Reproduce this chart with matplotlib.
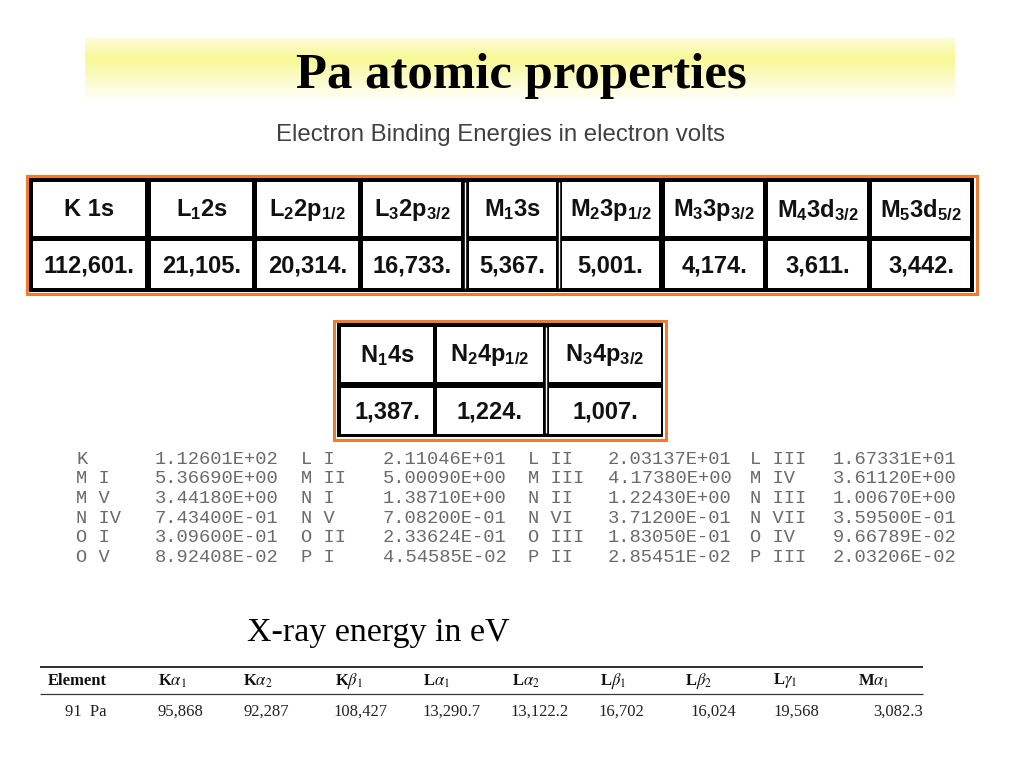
import numpy as np
import matplotlib
matplotlib.use("Agg")
import matplotlib.pyplot as plt
from matplotlib.patches import Rectangle

plt.rcParams['mathtext.fontset'] = 'custom'
plt.rcParams['mathtext.rm'] = 'Liberation Sans:bold'
plt.rcParams['mathtext.it'] = 'Liberation Sans:bold'
plt.rcParams['mathtext.bf'] = 'Liberation Sans:bold'
plt.rcParams['mathtext.sf'] = 'Liberation Sans:bold'

# ---------------- data ----------------
title = "Pa atomic properties"
subtitle = "Electron Binding Energies in electron volts"

shells_1 = ["K 1s", r"$\mathrm{L_1 2s}$", r"$\mathrm{L_2 2p_{1/2}}$", r"$\mathrm{L_3 2p_{3/2}}$",
            r"$\mathrm{M_1 3s}$", r"$\mathrm{M_2 3p_{1/2}}$", r"$\mathrm{M_3 3p_{3/2}}$",
            r"$\mathrm{M_4 3d_{3/2}}$", r"$\mathrm{M_5 3d_{5/2}}$"]
energies_1 = ["112,601.", "21,105.", "20,314.", "16,733.", "5,367.", "5,001.",
              "4,174.", "3,611.", "3,442."]

shells_2 = [r"$\mathrm{N_1 4s}$", r"$\mathrm{N_2 4p_{1/2}}$", r"$\mathrm{N_3 4p_{3/2}}$"]
energies_2 = ["1,387.", "1,224.", "1,007."]

levels = ["K", "L I", "L II", "L III",
          "M I", "M II", "M III", "M IV",
          "M V", "N I", "N II", "N III",
          "N IV", "N V", "N VI", "N VII",
          "O I", "O II", "O III", "O IV",
          "O V", "P I", "P II", "P III"]
level_values = ["1.12601E+02", "2.11046E+01", "2.03137E+01", "1.67331E+01",
                "5.36690E+00", "5.00090E+00", "4.17380E+00", "3.61120E+00",
                "3.44180E+00", "1.38710E+00", "1.22430E+00", "1.00670E+00",
                "7.43400E-01", "7.08200E-01", "3.71200E-01", "3.59500E-01",
                "3.09600E-01", "2.33624E-01", "1.83050E-01", "9.66789E-02",
                "8.92408E-02", "4.54585E-02", "2.85451E-02", "2.03206E-02"]

xray_title = "X-ray energy in eV"
xray_headers = ["Element", r"K$\alpha_1$", r"K$\alpha_2$", r"K$\beta_1$", r"L$\alpha_1$",
                r"L$\alpha_2$", r"L$\beta_1$", r"L$\beta_2$", r"L$\gamma_1$", r"M$\alpha_1$"]
xray_values = ["91  Pa", "95,868", "92,287", "108,427", "13,290.7", "13,122.2",
               "16,702", "16,024", "19,568", "3,082.3"]

# ---------------- layout ----------------
fig = plt.figure(figsize=(10.24, 7.68), dpi=100)
ax = fig.add_axes([0, 0, 1, 1])
ax.set_xlim(0, 1024)
ax.set_ylim(768, 0)
ax.axis('off')

PX = 0.72  # points per pixel

# title band gradient
yy = np.linspace(38, 102, 200)
w = np.where(yy < 58, 0.35 + 0.65 * (yy - 38) / 20, 1 - (yy - 58) / 44)
w = np.clip(w, 0, 1)
yellow = np.array([248, 248, 150]) / 255.0
white = np.ones(3)
grad = white[None, :] * (1 - w[:, None]) + yellow[None, :] * w[:, None]
grad = np.repeat(grad[:, None, :], 2, axis=1)
ax.imshow(grad, extent=[85, 955, 102, 38], aspect='auto', zorder=0, interpolation='bilinear')

ax.text(521, 88, title, fontfamily='Liberation Serif', fontweight='bold', fontsize=36.5,
        ha='center', va='baseline', color='black', zorder=3)
ax.text(500, 141, subtitle, fontfamily='Liberation Sans', fontsize=17.3,
        ha='center', va='baseline', color='#404040', zorder=3)

ORANGE = '#ef7a30'


def draw_table(outer, black, cells, rows, doubles, labels, values, fs):
    ox0, ox1, oy0, oy1 = outer
    ax.add_patch(Rectangle((ox0, oy0), ox1 - ox0, oy1 - oy0, facecolor='none',
                           edgecolor=ORANGE, lw=3 * PX, zorder=1))
    bx0, bx1, by0, by1 = black
    ax.add_patch(Rectangle((bx0, by0), bx1 - bx0, by1 - by0, facecolor='black',
                           edgecolor='none', zorder=2))
    for (cx0, cx1) in cells:
        for (ry0, ry1) in rows:
            ax.add_patch(Rectangle((cx0, ry0), cx1 - cx0, ry1 - ry0, facecolor='white',
                                   edgecolor='none', zorder=3))
    for xd in doubles:
        ax.plot([xd, xd], [by0 + 4, by1 - 4], color='white', lw=1.4 * PX, zorder=3,
                solid_capstyle='butt')
    for (cx0, cx1), lab, val in zip(cells, labels, values):
        xc = (cx0 + cx1) / 2
        ax.text(xc, (rows[0][0] + rows[0][1]) / 2 + 1, lab, fontfamily='Liberation Sans',
                fontweight='bold', fontsize=fs, ha='center', va='center', color='#111111',
                math_fontfamily='custom', zorder=4)
        ax.text(xc, (rows[1][0] + rows[1][1]) / 2 + 1, val, fontfamily='Liberation Sans',
                fontweight='bold', fontsize=fs, ha='center', va='center', color='#111111',
                zorder=4)


draw_table(outer=(26.5, 976.5, 175.5, 294),
           black=(29, 974, 178, 292),
           cells=[(33, 145), (151, 252), (257, 358), (363, 461), (469, 556),
                  (562, 659), (665, 763), (768, 867), (872, 970)],
           rows=[(182, 236), (241, 288)],
           doubles=[465, 559],
           labels=shells_1, values=energies_1, fs=17)

draw_table(outer=(334, 666, 320.5, 439.5),
           black=(337, 663, 323, 437),
           cells=[(341, 433), (437, 543), (549, 661)],
           rows=[(327, 382), (388, 434)],
           doubles=[546],
           labels=shells_2, values=energies_2, fs=17)

# monospaced level list
label_x = [76, 301, 528, 750]
value_x = [155, 383, 608, 833]
row_y0, row_dy = 459, 19.7
for i, (lv, val) in enumerate(zip(levels, level_values)):
    r, c = divmod(i, 4)
    y = row_y0 + r * row_dy
    ax.text(label_x[c], y, lv, fontfamily='Liberation Mono', fontsize=13.5,
            color='#6a6a6a', ha='left', va='center')
    ax.text(value_x[c], y, val, fontfamily='Liberation Mono', fontsize=13.5,
            color='#6a6a6a', ha='left', va='center')

# X-ray table
ax.text(247, 641, xray_title, fontfamily='Liberation Serif', fontsize=24.5,
        ha='left', va='baseline', color='black')
ax.plot([40, 923], [667, 667], color='black', lw=1.6 * PX, solid_capstyle='butt')
ax.plot([40, 923], [694, 694], color='#333333', lw=1.2 * PX, solid_capstyle='butt')
head_x = [48, 158, 243, 335, 423, 512, 600, 685, 773, 858]
val_x = [65, 157, 243, 333, 422, 510, 598, 690, 773, 923]
for i, (h, v) in enumerate(zip(xray_headers, xray_values)):
    ax.text(head_x[i], 681, h, fontfamily='Liberation Serif', fontweight='bold', fontsize=12,
            ha='left', va='center', color='#111111', math_fontfamily='stix')
    ax.text(val_x[i], 712, v, fontfamily='Liberation Serif', fontsize=12,
            ha='right' if i == len(xray_values) - 1 else 'left', va='center', color='#222222')

fig.savefig("out.png", dpi=100)
